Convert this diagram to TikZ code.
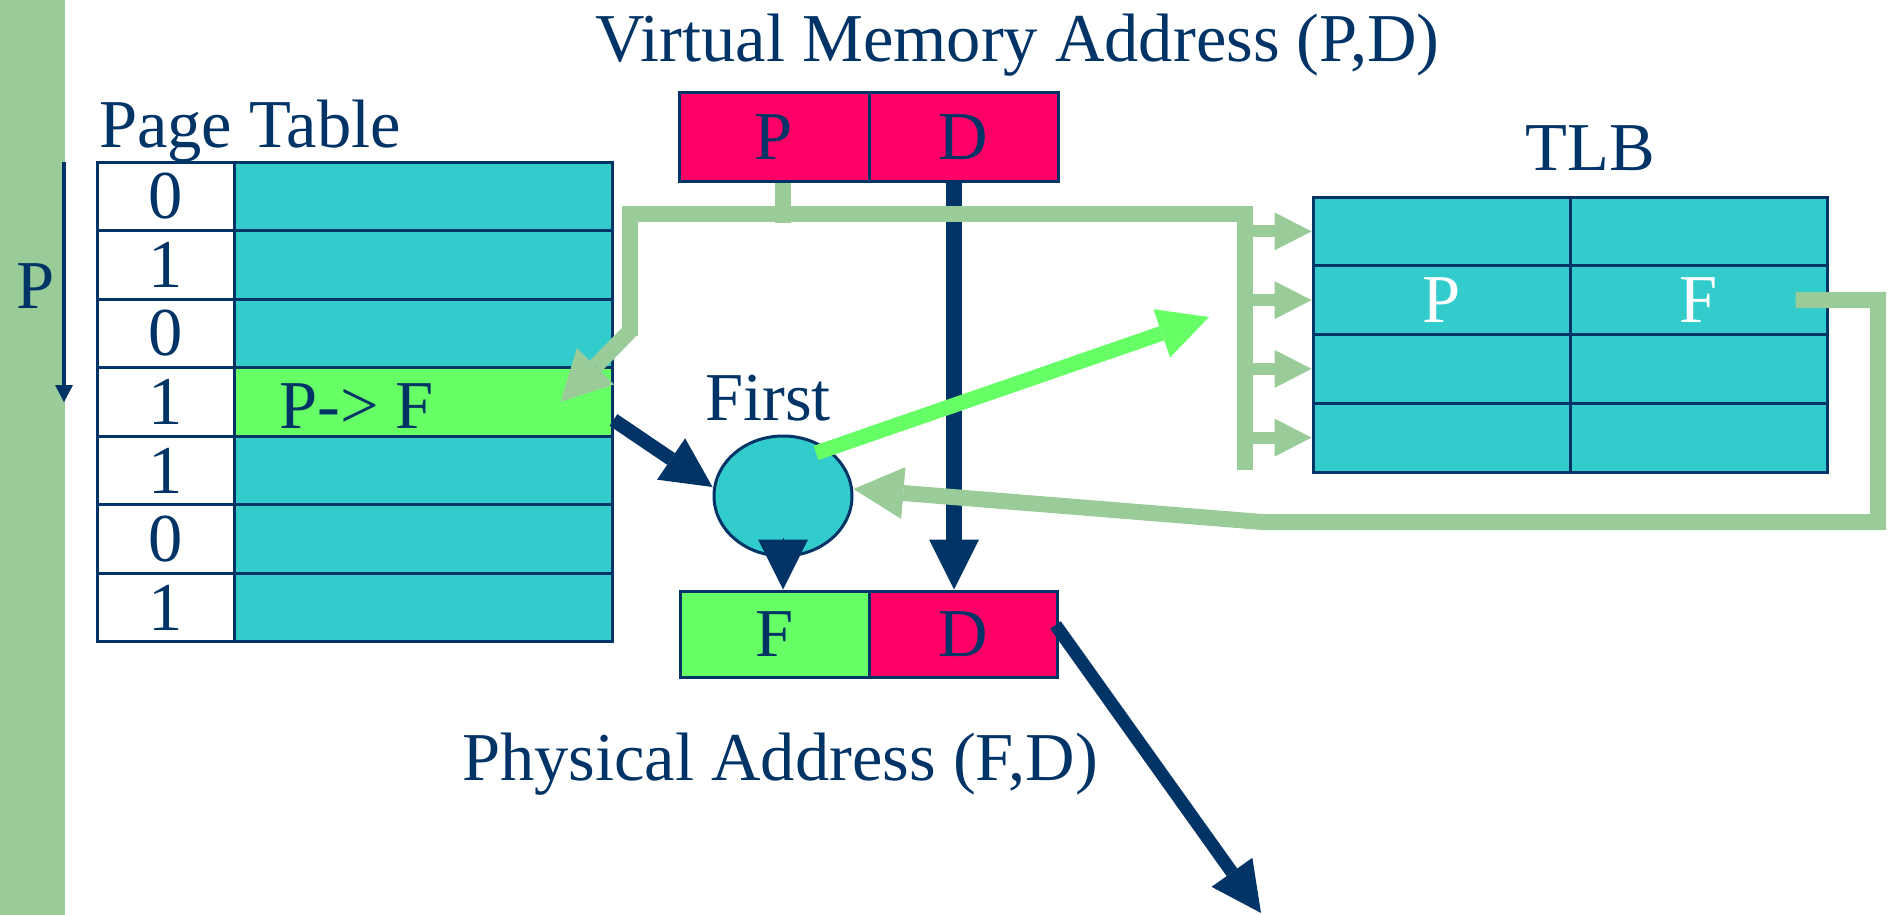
\documentclass[tikz,border=0pt]{standalone}
\usepackage{fontspec}
\setmainfont{Liberation Serif}
\usetikzlibrary{arrows.meta,shapes.geometric,calc}
\definecolor{dblue}{HTML}{003366}
\definecolor{tealc}{HTML}{33CCCC}
\definecolor{lgreen}{HTML}{99CC99}
\definecolor{bgreen}{HTML}{66FF66}
\definecolor{pinkred}{HTML}{FF0066}
\begin{document}
\begin{tikzpicture}[x=1pt,y=-1pt,
  lbl/.style={text=dblue,font=\fontsize{68.5}{72}\selectfont,inner sep=0pt},
  cellbox/.style={draw=dblue,line width=3pt,inner sep=0pt,font=\fontsize{68.5}{72}\selectfont,text=dblue},
  lgpath/.style={draw=lgreen,line width=16pt,line join=miter},
  lgarrow/.style={draw=lgreen,line width=16pt,line join=miter,-{Triangle[length=50pt,width=52pt,line width=0pt]}},
  lgbranch/.style={draw=lgreen,line width=12pt,-{Triangle[length=37pt,width=38pt,line width=0pt]}},
  bgarrow/.style={draw=bgreen,line width=15pt,-{Triangle[length=50pt,width=51pt,line width=0pt]}},
  dbarrow/.style={draw=dblue,line width=14pt,-{Triangle[length=50pt,width=50pt,line width=0pt]}},
  thinarrow/.style={draw=dblue,line width=4pt,-{Triangle[length=17pt,width=18pt,line width=0pt]}}
]
\useasboundingbox (0,0) rectangle (1892,915);
\fill[lgreen] (0,0) rectangle (65,915);

% page table
\foreach \v/\c [count=\i from 0] in {0/tealc,1/tealc,0/tealc,1/bgreen,1/tealc,0/tealc,1/tealc} {
  \node[cellbox,fill=white,minimum width=137pt,minimum height=68.57pt] (i\i) at (165.5,{162+68.57*(\i+0.5)}) {\v};
  \node[cellbox,fill=\c,minimum width=378pt,minimum height=68.57pt] (v\i) at (423,{162+68.57*(\i+0.5)}) {};
}
\node[lbl,anchor=base west] (ptf) at (279,428) {P-> F};
\node[lbl,anchor=base west] (ptl) at (99,147) {Page Table};
\node[lbl,anchor=base] (plbl) at (36,308) {P};
\coordinate (pa0) at (64,162);
\coordinate (pa1) at (64,402);
\draw[thinarrow] (pa0) -- (pa1);

% TLB
\foreach \r/\pa/\pb in {0//,1/P/F,2//,3//} {
  \node[cellbox,fill=tealc,text=white,minimum width=257pt,minimum height=68.75pt] (ta\r) at (1441.5,{197+68.75*(\r+0.5)}) {\pa};
  \node[cellbox,fill=tealc,text=white,minimum width=257pt,minimum height=68.75pt] (tb\r) at (1698.5,{197+68.75*(\r+0.5)}) {\pb};
}
\node[lbl,anchor=base] (tlbl) at (1590,171) {TLB};

% virtual address
\node[lbl,anchor=base west] (vma) at (595,62) {Virtual Memory Address (P,D)};
\node[cellbox,fill=pinkred,minimum width=190pt,minimum height=88pt] (pP) at (774,137) {P};
\node[cellbox,fill=pinkred,minimum width=189pt,minimum height=88pt] (pD) at (963.5,137) {D};

% physical address
\node[cellbox,fill=bgreen,minimum width=189pt,minimum height=86pt] (fF) at (774.5,634) {F};
\node[cellbox,fill=pinkred,minimum width=188pt,minimum height=86pt] (fD) at (963,634) {D};
\node[lbl,anchor=base west] (phys) at (462,780) {Physical Address (F,D)};

% First
\node[ellipse,draw=dblue,line width=3pt,fill=tealc,minimum width=138pt,minimum height=120pt,inner sep=0pt] (fst) at (783,496) {};
\node[lbl,anchor=base] (firstl) at (768,420) {First};

% dark D line
\draw[dbarrow,line width=16pt] ($(pD.south)+(-9.5,0)$) -- ($(fD.north)+(-9,0)$);

% light green distribution path
\coordinate (hl) at (630,214);
\coordinate (hr) at (1245,214);
\coordinate (vb) at (1245,470);
\draw[lgpath] (pP.south -| fst.center) -- ($(pP.south -| fst.center)+(0,40)$);
\draw[lgpath] (vb) -- (hr) -- (hl) -- (630,336);
\draw[lgarrow] (630,331) -- ($(v3.east)+(-53,0)$);
\foreach \r in {0,1,2,3} {
  \draw[lgbranch] (ta\r.west -| vb) -- (ta\r.west);
}

% return path from TLB
\draw[lgarrow] ($(tb1.east)+(-33,0)$) -- (1878,300) -- (1878,522) -- (1262,522) -- ($(fst.east)+(0,-7)$);

% bright green arrow
\coordinate (gtip) at (1209,317);
\draw[bgarrow] ($(fst.center)+(33,-43)$) -- (gtip);

% dark arrows
\draw[dbarrow] ($(v3.east)+(0,18)$) -- ($(fst.west)+(0,-9)$);
\draw[dbarrow,line width=0.5pt] ($(fst.south)+(0,-20)$) -- (fF.north -| fst.south);
\coordinate (outc) at (1261,913);
\draw[dbarrow,line width=13pt] ($(fD.east)+(-3,-9)$) -- (outc);
\end{tikzpicture}
\end{document}
